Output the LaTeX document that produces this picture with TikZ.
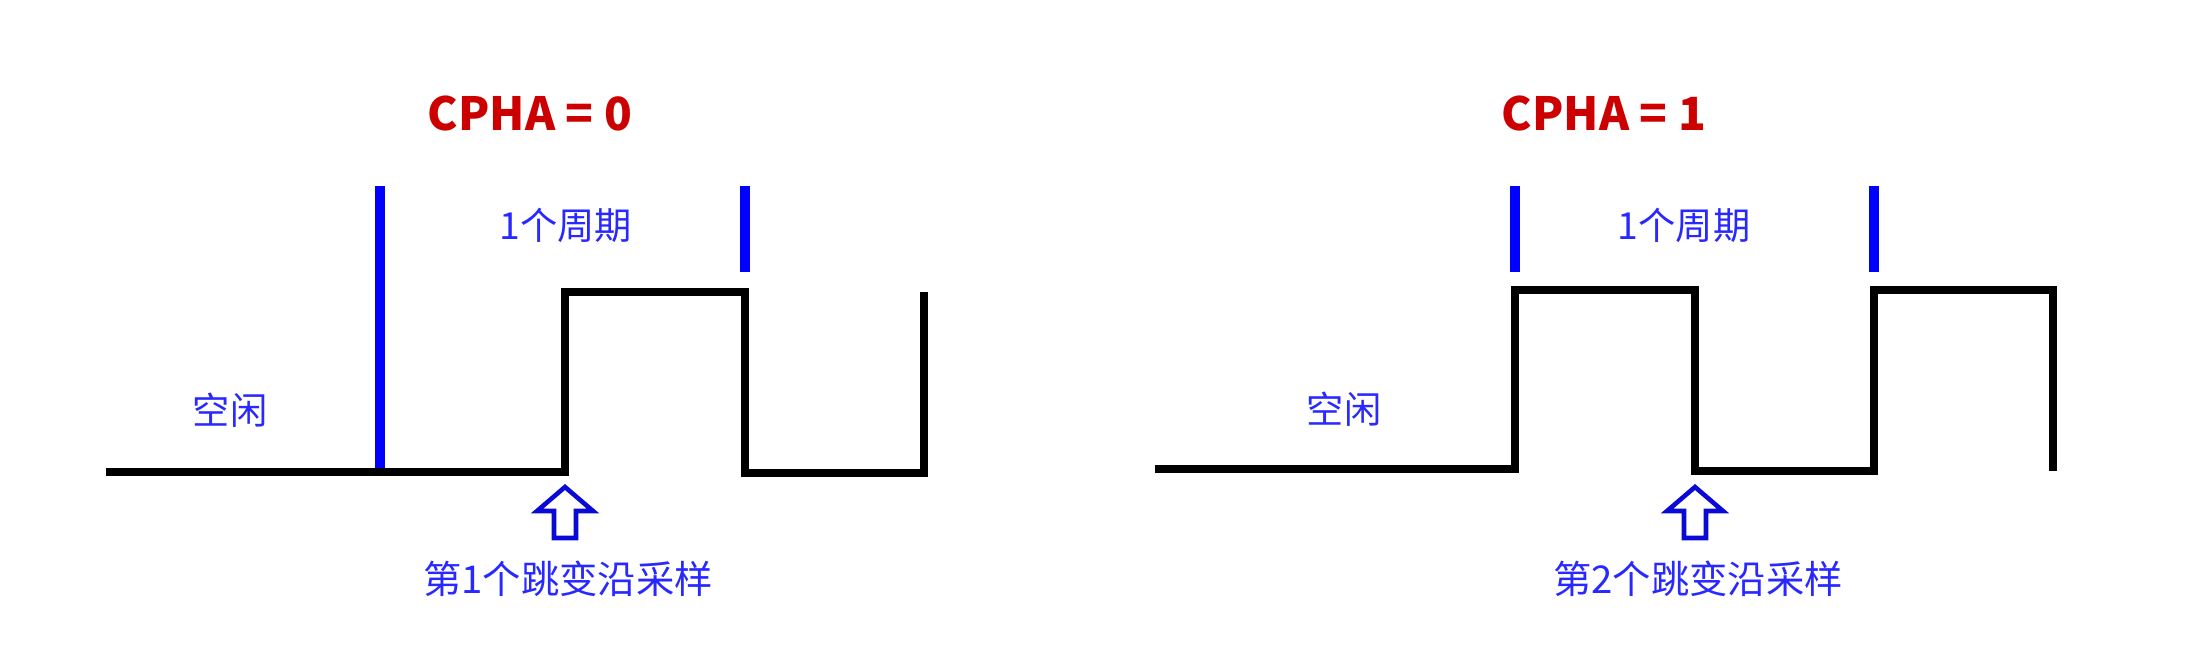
\documentclass[tikz,border=0pt]{standalone}
\usepackage{fontspec}
\setmainfont{Noto Sans CJK SC}
\newfontfamily\cjk{Noto Sans CJK SC}
\usepackage{xcolor}
\usepackage{tikz}
\usetikzlibrary{positioning,calc}
\definecolor{phasered}{RGB}{204,0,0}
\definecolor{markblue}{RGB}{0,0,255}
\definecolor{labelblue}{RGB}{40,40,255}
\definecolor{arrowblue}{RGB}{10,10,215}
\newcommand{\samplearrow}[1]{
\draw[samplearrow] (#1,487) -- (#1+28,511) -- (#1+11,511) -- (#1+11,538)
  -- (#1-11,538) -- (#1-11,511) -- (#1-28,511) -- cycle;
}

\begin{document}
\begin{tikzpicture}[x=0.01cm,y=-0.01cm,
  wave/.style={line width=2.1pt,black,line join=miter},
  edgemark/.style={line width=2.7pt,markblue},
  cjklabel/.style={font=\cjk\fontsize{10.6}{12}\selectfont,text=labelblue,inner sep=0pt},
  samplelabel/.style={font=\cjk\fontsize{10.9}{13}\selectfont,text=labelblue,inner sep=0pt},
  phase/.style={font=\cjk\bfseries\fontsize{13}{15}\selectfont,text=phasered,inner sep=0pt},
  samplearrow/.style={line width=1.3pt,draw=arrowblue,line join=miter}]
\useasboundingbox (0,0) rectangle (2209,654);
% CPHA = 0
\begin{scope}
\node[phase] (phaseA) at (530,113) {CPHA = 0};
\draw[edgemark] (380,186) -- (380,472);
\draw[edgemark] (745,186) -- (745,272);
\node[cjklabel] (periodA) at (566,225) {1个周期};
\node[cjklabel] (idleA) at (230,410) {空闲};
\draw[wave] (106,472) -- (565,472) -- (565,292) -- (745,292) -- (745,473)
  -- (924,473) -- (924,292);
\samplearrow{565}
\node[samplelabel] (sampleA) at (568,579) {第1个跳变沿采样};
\end{scope}
% CPHA = 1
\begin{scope}
\node[phase] (phaseB) at (1604,113) {CPHA = 1};
\foreach \x in {1515,1874}{
  \draw[edgemark] (\x,186) -- (\x,272);
}
\node[cjklabel] (periodB) at (1684,225) {1个周期};
\node[cjklabel] (idleB) at (1344,409) {空闲};
\draw[wave] (1155,469) -- (1515,469) -- (1515,290) -- (1695,290) -- (1695,471)
  -- (1874,471) -- (1874,290) -- (2053,290) -- (2053,471);
\samplearrow{1695}
\node[samplelabel] (sampleB) at (1698,579) {第2个跳变沿采样};
\end{scope}
\end{tikzpicture}
\end{document}
